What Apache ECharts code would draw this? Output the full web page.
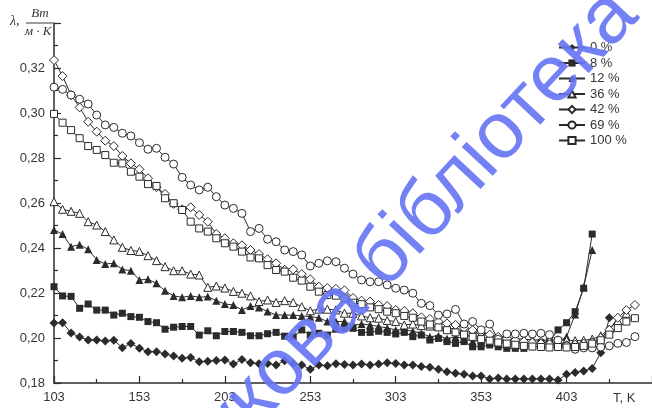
<!DOCTYPE html>
<html>
<head>
<meta charset="utf-8">
<style>
  html, body { margin: 0; padding: 0; background: #ffffff; }
  #chart { width: 652px; height: 408px; }
</style>
<script src="https://cdn.jsdelivr.net/npm/echarts@6/dist/echarts.min.js"></script>
</head>
<body>
<div id="chart"></div>
<script>
// Temperature grid, K
const temperature = [
  103, 108, 113, 118, 123, 128, 133, 138, 143, 148,
  153, 158, 163, 168, 173, 178, 183, 188, 193, 198,
  203, 208, 213, 218, 223, 228, 233, 238, 243, 248,
  253, 258, 263, 268, 273, 278, 283, 288, 293, 298,
  303, 308, 313, 318, 323, 328, 333, 338, 343, 348,
  353, 358, 363, 368, 373, 378, 383, 388, 393, 398,
  403, 408, 413, 418, 423, 428, 433, 438, 443
];

// Thermal conductivity, W/(m·K), one list per moisture content
const lambda0 = [
  0.2067, 0.2068, 0.2022, 0.2004, 0.1991, 0.1991, 0.1987, 0.1990, 0.1957, 0.1976,
  0.1954, 0.1939, 0.1939, 0.1929, 0.1920, 0.1910, 0.1913, 0.1895, 0.1897, 0.1900,
  0.1902, 0.1884, 0.1905, 0.1890, 0.1886, 0.1887, 0.1880, 0.1899, 0.1887, 0.1880,
  0.1861, 0.1880, 0.1877, 0.1886, 0.1882, 0.1880, 0.1884, 0.1880, 0.1884, 0.1890,
  0.1887, 0.1880, 0.1880, 0.1873, 0.1870, 0.1861, 0.1850, 0.1843, 0.1839, 0.1831,
  0.1831, 0.1818, 0.1822, 0.1818, 0.1818, 0.1818, 0.1818, 0.1818, 0.1818, 0.1813,
  0.1839, 0.1847, 0.1853, 0.1865, 0.1935, 0.2090
];
const lambda8 = [
  0.2228, 0.2187, 0.2185, 0.2132, 0.2151, 0.2124, 0.2124, 0.2102, 0.2110, 0.2095,
  0.2092, 0.2073, 0.2068, 0.2039, 0.2048, 0.2051, 0.2051, 0.2013, 0.2032, 0.2010,
  0.2029, 0.2029, 0.2025, 0.2010, 0.2010, 0.2019, 0.2025, 0.2008, 0.2005, 0.2036,
  0.2013, 0.2021, 0.2013, 0.2039, 0.2043, 0.2043, 0.2025, 0.2025, 0.2030, 0.2025,
  0.2018, 0.2025, 0.2006, 0.2013, 0.1991, 0.1998, 0.1984, 0.1976, 0.1984, 0.1961,
  0.1961, 0.1969, 0.1961, 0.1954, 0.1954, 0.1954, 0.1972, 0.1980, 0.1985, 0.2036,
  0.2068, 0.2117, 0.2221, 0.2462
];
const lambda12 = [
  0.2480, 0.2462, 0.2406, 0.2415, 0.2394, 0.2347, 0.2329, 0.2332, 0.2305, 0.2299,
  0.2258, 0.2261, 0.2243, 0.2210, 0.2187, 0.2181, 0.2187, 0.2181, 0.2184, 0.2166,
  0.2151, 0.2147, 0.2124, 0.2142, 0.2136, 0.2118, 0.2102, 0.2102, 0.2102, 0.2098,
  0.2095, 0.2090, 0.2073, 0.2073, 0.2073, 0.2058, 0.2062, 0.2058, 0.2051, 0.2045,
  0.2036, 0.2036, 0.2030, 0.2021, 0.2006, 0.2010, 0.1998, 0.2005, 0.1998, 0.1984,
  0.1990, 0.1984, 0.1984, 0.1980, 0.1978, 0.1976, 0.1975, 0.1978, 0.1980, 0.1984,
  0.2006, 0.2105, 0.2228, 0.2391
];
const lambda36 = [
  0.2606, 0.2572, 0.2563, 0.2554, 0.2517, 0.2502, 0.2473, 0.2436, 0.2403, 0.2389,
  0.2385, 0.2366, 0.2344, 0.2317, 0.2299, 0.2299, 0.2284, 0.2280, 0.2225, 0.2231,
  0.2222, 0.2207, 0.2199, 0.2187, 0.2162, 0.2169, 0.2158, 0.2166, 0.2158, 0.2139,
  0.2121, 0.2128, 0.2128, 0.2125, 0.2110, 0.2110, 0.2098, 0.2090, 0.2088, 0.2078,
  0.2073, 0.2058, 0.2062, 0.2055, 0.2053, 0.2051, 0.2045, 0.2040, 0.2030, 0.2025,
  0.2018, 0.2010, 0.2005, 0.2000, 0.1998, 0.1995, 0.1992, 0.1990, 0.1990, 0.1992,
  0.1990, 0.1988, 0.1990, 0.1995, 0.2010, 0.2040, 0.2077, 0.2110
];
const lambda42 = [
  0.3235, 0.3164, 0.3080, 0.3025, 0.2961, 0.2917, 0.2877, 0.2853, 0.2809, 0.2776,
  0.2750, 0.2710, 0.2670, 0.2640, 0.2596, 0.2572, 0.2581, 0.2547, 0.2517, 0.2462,
  0.2443, 0.2421, 0.2412, 0.2391, 0.2373, 0.2350, 0.2332, 0.2303, 0.2305, 0.2284,
  0.2261, 0.2228, 0.2222, 0.2218, 0.2212, 0.2178, 0.2166, 0.2162, 0.2147, 0.2142,
  0.2125, 0.2120, 0.2110, 0.2092, 0.2085, 0.2073, 0.2065, 0.2058, 0.2045, 0.2035,
  0.2025, 0.2015, 0.2005, 0.1998, 0.1990, 0.1985, 0.1980, 0.1975, 0.1972, 0.1970,
  0.1968, 0.1970, 0.1975, 0.1980, 0.2000, 0.2036, 0.2090, 0.2124, 0.2147
];
const lambda69 = [
  0.3115, 0.3105, 0.3080, 0.3061, 0.3040, 0.2991, 0.2947, 0.2936, 0.2910, 0.2898,
  0.2868, 0.2839, 0.2843, 0.2803, 0.2773, 0.2714, 0.2680, 0.2658, 0.2670, 0.2628,
  0.2591, 0.2576, 0.2554, 0.2473, 0.2487, 0.2439, 0.2428, 0.2391, 0.2384, 0.2369,
  0.2320, 0.2332, 0.2343, 0.2339, 0.2310, 0.2284, 0.2258, 0.2250, 0.2250, 0.2236,
  0.2221, 0.2213, 0.2199, 0.2154, 0.2144, 0.2102, 0.2107, 0.2127, 0.2062, 0.2073,
  0.2036, 0.2062, 0.1994, 0.2018, 0.2018, 0.2021, 0.2018, 0.2021, 0.2015, 0.1990,
  0.1965, 0.1950, 0.1956, 0.1956, 0.1960, 0.1965, 0.1976, 0.1980, 0.2006
];
const lambda100 = [
  0.2996, 0.2957, 0.2924, 0.2888, 0.2853, 0.2836, 0.2813, 0.2779, 0.2776, 0.2739,
  0.2717, 0.2684, 0.2676, 0.2621, 0.2599, 0.2569, 0.2517, 0.2487, 0.2473, 0.2443,
  0.2421, 0.2406, 0.2384, 0.2358, 0.2354, 0.2324, 0.2302, 0.2295, 0.2268, 0.2255,
  0.2228, 0.2206, 0.2191, 0.2188, 0.2176, 0.2157, 0.2150, 0.2136, 0.2128, 0.2117,
  0.2110, 0.2098, 0.2090, 0.2073, 0.2060, 0.2047, 0.2035, 0.2025, 0.2015, 0.2005,
  0.1995, 0.1988, 0.1980, 0.1975, 0.1970, 0.1965, 0.1962, 0.1960, 0.1958, 0.1960,
  0.1958, 0.1960, 0.1965, 0.1975, 0.1990, 0.2015, 0.2044, 0.2073, 0.2088
];

const seriesNames = ['0 %', '8 %', '12 %', '36 %', '42 %', '69 %', '100 %'];

const INK = '#2b2b2b';
const TEXT = '#363636';
const SANS = '"Liberation Sans", Arial, sans-serif';
const SERIF = '"Liberation Serif", "Times New Roman", serif';

// marker look per curve: shape, size, filled or hollow
const markerStyles = [
  { symbol: 'diamond', size: 9, filled: true },
  { symbol: 'rect', size: 7, filled: true },
  { symbol: 'triangle', size: 8, filled: true },
  { symbol: 'triangle', size: 8, filled: false },
  { symbol: 'diamond', size: 9, filled: false },
  { symbol: 'circle', size: 8, filled: false },
  { symbol: 'rect', size: 7, filled: false }
];
const curves = [lambda0, lambda8, lambda12, lambda36, lambda42, lambda69, lambda100];

function toPoints(values) {
  return values.map((v, i) => [temperature[i], v]);
}

const series = curves.map((values, k) => {
  const m = markerStyles[k];
  return {
    name: seriesNames[k],
    type: 'line',
    data: toPoints(values),
    symbol: m.symbol,
    symbolSize: m.size,
    showSymbol: true,
    showAllSymbol: true,
    clip: false,
    lineStyle: { color: INK, width: 1 },
    itemStyle: m.filled
      ? { color: INK, borderColor: INK, borderWidth: 0 }
      : { color: '#ffffff', borderColor: INK, borderWidth: 1 },
    emphasis: { disabled: true },
    z: 3
  };
});

const chart = echarts.init(document.getElementById('chart'), null, { renderer: 'canvas' });

chart.setOption({
  animation: false,
  backgroundColor: '#ffffff',
  grid: { left: 54, top: 23, width: 602, height: 360, containLabel: false },
  xAxis: {
    type: 'value',
    min: 103,
    max: 453,
    interval: 50,
    axisLine: { show: true, onZero: false, lineStyle: { color: INK, width: 1.5 } },
    axisTick: { show: true, inside: true, length: 7, lineStyle: { color: INK, width: 1.2 } },
    minorTick: { show: true, splitNumber: 2, length: 4, lineStyle: { color: INK, width: 1.2 } },
    splitLine: { show: false },
    minorSplitLine: { show: false },
    axisLabel: { color: TEXT, fontSize: 13, fontFamily: SANS, margin: 8, showMaxLabel: false }
  },
  yAxis: {
    type: 'value',
    min: 0.18,
    max: 0.34,
    interval: 0.02,
    axisLine: { show: true, onZero: false, lineStyle: { color: INK, width: 1.5 } },
    axisTick: { show: true, inside: true, length: 7, lineStyle: { color: INK, width: 1.2 } },
    minorTick: { show: true, splitNumber: 2, length: 4, lineStyle: { color: INK, width: 1.2 } },
    splitLine: { show: false },
    minorSplitLine: { show: false },
    axisLabel: {
      color: TEXT, fontSize: 13, fontFamily: SANS, margin: 9, showMaxLabel: false,
      formatter: v => v.toFixed(2).replace('.', ',')
    }
  },
  legend: {
    orient: 'vertical',
    left: 553,
    top: 35,
    itemWidth: 26,
    itemHeight: 9,
    itemGap: 0.5,
    selectedMode: false,
    textStyle: { color: TEXT, fontSize: 13, fontFamily: SANS, lineHeight: 15 },
    data: seriesNames
  },
  series: series,
  graphic: [
    // unit of the vertical axis: λ, Вт/(м·К)
    { type: 'text', x: 10, y: 21, style: { text: 'λ,', font: 'italic 14px ' + SERIF, fill: TEXT, verticalAlign: 'middle' } },
    { type: 'text', x: 40, y: 14, style: { text: 'Вт', font: 'italic 13px ' + SERIF, fill: TEXT, align: 'center', verticalAlign: 'middle' } },
    { type: 'line', shape: { x1: 26, y1: 23, x2: 53, y2: 23 }, style: { stroke: TEXT, lineWidth: 1 } },
    { type: 'text', x: 38, y: 32, style: { text: 'м · К', font: 'italic 13px ' + SERIF, fill: TEXT, align: 'center', verticalAlign: 'middle' } },
    // name of the horizontal axis
    { type: 'text', x: 613, y: 398, style: { text: 'T, K', font: '13px ' + SANS, fill: TEXT, verticalAlign: 'middle' } },
    // library stamp across the sheet
    {
      type: 'text', x: 173, y: 545, rotation: 47 * Math.PI / 180, z: 100,
      style: {
        text: 'Наукова бібліотека',
        font: '80px ' + SANS,
        fill: 'rgb(104,118,244)',
        opacity: 0.92,
        align: 'left',
        verticalAlign: 'bottom'
      }
    }
  ]
});
</script>
</body>
</html>
